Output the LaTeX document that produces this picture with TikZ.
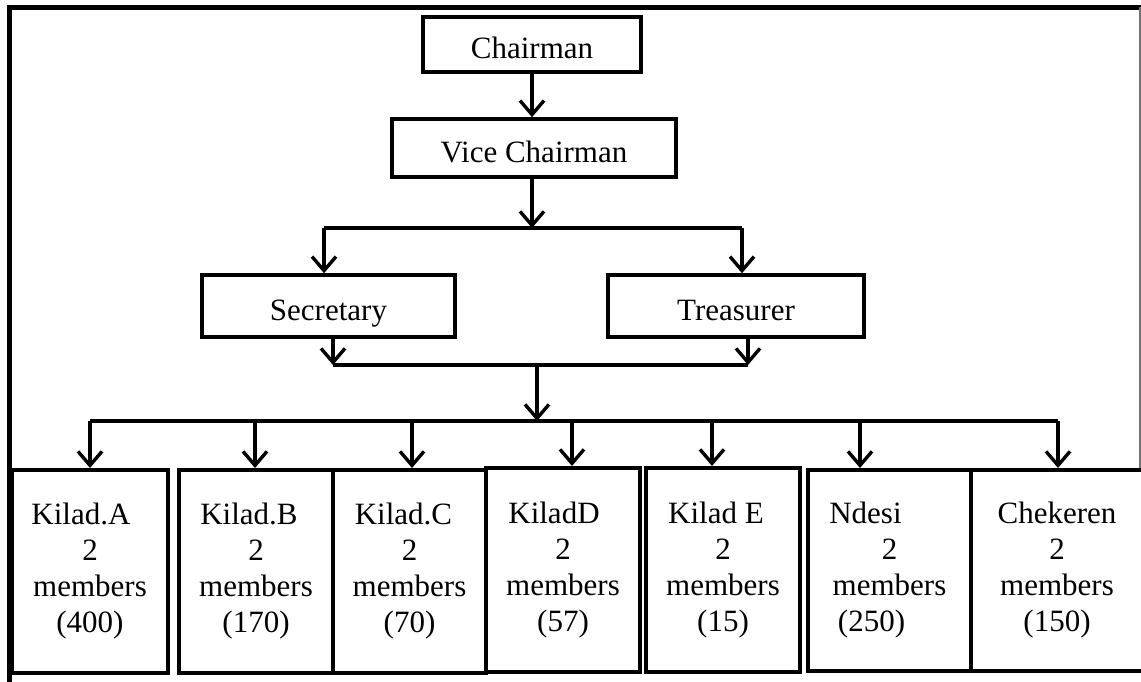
\documentclass[tikz,border=0pt]{standalone}
\usepackage{fontspec}
\setmainfont{Liberation Serif}
\usetikzlibrary{arrows.meta}
\begin{document}
\begin{tikzpicture}[x=1pt,y=-1pt,
  box/.style={draw,line width=3.6pt,rectangle,inner sep=0pt,
    font=\fontsize{31}{36}\selectfont,text height=28pt,text depth=0pt},
  unit/.style={draw,line width=4pt,rectangle,inner sep=0pt,align=center,
    font=\fontsize{31}{36}\selectfont},
  arr/.style={line width=3.2pt,-{Straight Barb[length=14pt,width=24pt,line width=3.4pt]}},
  bus/.style={line width=3.2pt}]
\useasboundingbox (0,0) rectangle (1141,681);

% outer frame
\draw[line width=5pt] (9.5,700) -- (9.5,7) -- (1160,7);
\draw[line width=1.2pt,black!55] (1140,7) -- (1140,470);

% officers
\node[box,minimum width=218,minimum height=55] (ch) at (532,44.5) {Chairman};
\node[box,minimum width=284,minimum height=58] (vc) at (534,148) {Vice Chairman};
\node[box,minimum width=253,minimum height=62] (sec) at (328.5,306) {Secretary};
\node[box,minimum width=256,minimum height=62] (tr) at (736,306) {Treasurer};

% groups
\node[unit,minimum width=156,minimum height=203] (ka) at (90,571.5)
  {Kilad.A\hspace*{18pt}\\2\\members\\(400)};
\node[unit,minimum width=154,minimum height=203] (kb) at (256,571.5)
  {Kilad.B\hspace*{14pt}\\2\\members\\(170)};
\node[unit,minimum width=153,minimum height=203] (kc) at (409.5,571.5)
  {Kilad.C\hspace*{12pt}\\2\\members\\(70)};
\node[unit,minimum width=154,minimum height=204] (kd) at (563,570)
  {KiladD\hspace*{18pt}\\2\\members\\(57)};
\node[unit,minimum width=154,minimum height=204] (ke) at (723,570)
  {Kilad E\hspace*{14pt}\\2\\members\\(15)};
\node[unit,minimum width=163,minimum height=201] (nd) at (889.5,570.5)
  {Ndesi\hspace*{48pt}\\2\\members\\(250)\hspace*{36pt}};
\node[unit,minimum width=172,minimum height=201] (ck) at (1057,570.5)
  {Chekeren\\2\\members\\(150)};

% junction points of the connector lines
\coordinate (j1) at (532,228);
\coordinate (j1l) at (324,228);
\coordinate (j1r) at (742,228);
\coordinate (j2l) at (333,365);
\coordinate (j2r) at (748,365);
\coordinate (j2) at (537,365);
\coordinate (j3) at (537,421);
\coordinate (j3l) at (90,421);
\coordinate (j3r) at (1058,421);

% chairman to vice chairman
\draw[arr] (ch.south -| j1) -- (vc.north -| j1);
% vice chairman to secretary and treasurer
\draw[arr] (vc.south -| j1) -- (j1);
\draw[bus] (j1l) -- (j1r);
\draw[arr] (j1l) -- (sec.north -| j1l);
\draw[arr] (j1r) -- (tr.north -| j1r);
% secretary and treasurer to the groups
\draw[arr] (sec.south -| j2l) -- (j2l);
\draw[arr] (tr.south -| j2r) -- (j2r);
\draw[bus] (j2l) -- (j2r);
\draw[arr] (j2) -- (j3);
\draw[bus] (j3l) -- (j3r);
\draw[arr] (j3l) -- (ka.north -| j3l);
\draw[arr] (j3 -| 255,0) -- (kb.north -| 255,0);
\draw[arr] (j3 -| 412,0) -- (kc.north -| 412,0);
\draw[arr] (j3 -| 572,0) -- (kd.north -| 572,0);
\draw[arr] (j3 -| 712,0) -- (ke.north -| 712,0);
\draw[arr] (j3 -| 860,0) -- (nd.north -| 860,0);
\draw[arr] (j3r) -- (ck.north -| j3r);
\end{tikzpicture}
\end{document}
